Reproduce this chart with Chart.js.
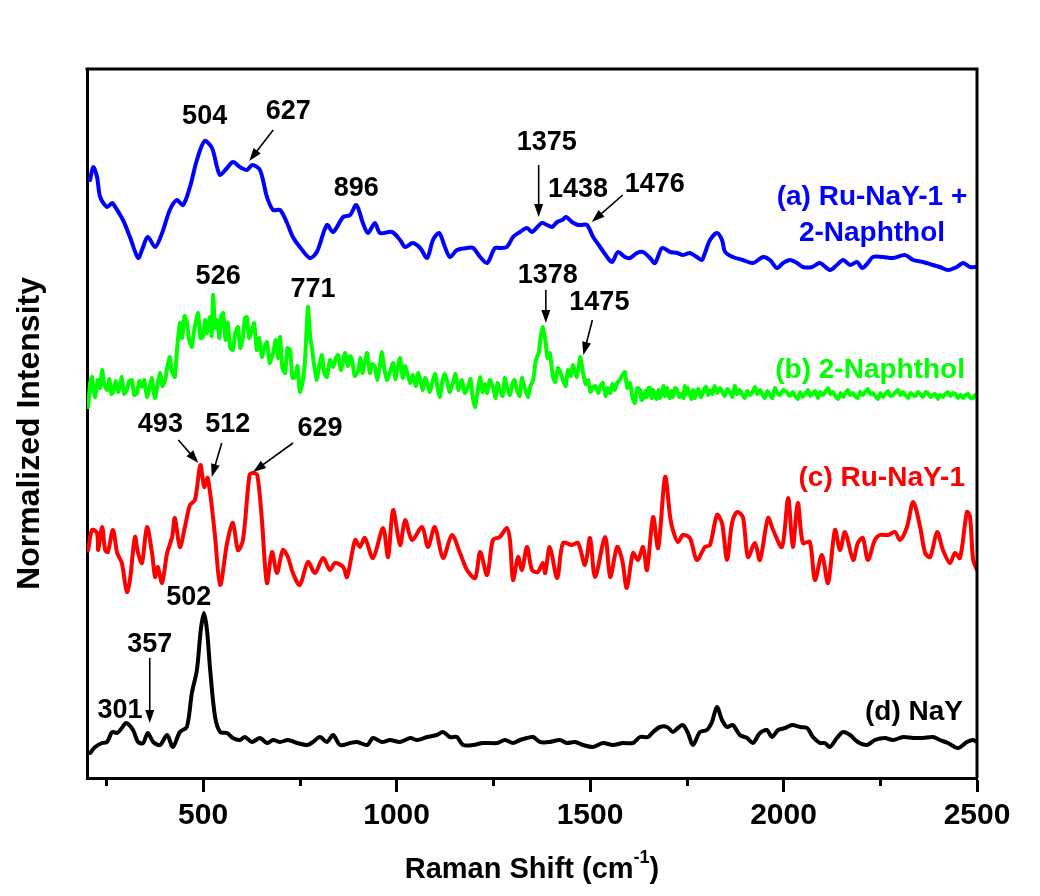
<!DOCTYPE html>
<html>
<head>
<meta charset="utf-8">
<title>Raman spectra</title>
<script src="https://cdn.jsdelivr.net/npm/chart.js@4.4.1/dist/chart.umd.min.js"></script>
<style>
  html, body { margin: 0; background: #fff; }
  #wrap { width: 1040px; height: 896px; }
</style>
</head>
<body>
<div id="wrap"><canvas id="raman"></canvas></div>
<script>
// Raman shift (cm-1) vs. normalized intensity, spectra stacked with offsets (a.u.)
const xMin = 200;
const xMax = 2500;
const majorTicks = [500, 1000, 1500, 2000, 2500];
const minorTicks = [250, 750, 1250, 1750, 2250];

// (a) Ru-NaY-1 + 2-Naphthol
const runay1Naphthol = [
  [208, 5.98], [216, 6.11], [226, 6.01], [234, 5.81], [252, 5.71], [265, 5.75], [273, 5.71],
  [293, 5.58], [311, 5.41], [332, 5.20], [342, 5.28], [357, 5.41], [376, 5.31], [394, 5.45],
  [414, 5.68], [432, 5.78], [448, 5.73], [466, 5.91], [484, 6.18], [504, 6.37], [523, 6.30],
  [536, 6.11], [544, 6.03], [562, 6.10], [577, 6.16], [595, 6.11], [613, 6.08], [627, 6.13],
  [647, 6.08], [665, 5.81], [681, 5.68], [699, 5.68], [717, 5.55], [732, 5.41], [750, 5.31],
  [776, 5.20], [794, 5.26], [820, 5.53], [836, 5.46], [862, 5.61], [880, 5.63], [896, 5.73],
  [913, 5.55], [926, 5.45], [944, 5.55], [957, 5.45], [988, 5.46], [1009, 5.38], [1022, 5.31],
  [1042, 5.35], [1061, 5.30], [1079, 5.20], [1094, 5.38], [1110, 5.45], [1125, 5.31], [1138, 5.21],
  [1156, 5.28], [1182, 5.30], [1198, 5.30], [1216, 5.21], [1234, 5.15], [1254, 5.30], [1267, 5.30],
  [1285, 5.31], [1301, 5.41], [1319, 5.46], [1337, 5.50], [1350, 5.46], [1375, 5.55], [1389, 5.53],
  [1402, 5.51], [1415, 5.56], [1428, 5.58], [1438, 5.61], [1453, 5.56], [1469, 5.53], [1476, 5.53],
  [1492, 5.53], [1508, 5.41], [1526, 5.31], [1544, 5.21], [1557, 5.16], [1572, 5.26], [1590, 5.21],
  [1603, 5.20], [1621, 5.25], [1637, 5.26], [1655, 5.20], [1668, 5.15], [1686, 5.30], [1707, 5.26],
  [1725, 5.25], [1740, 5.23], [1758, 5.25], [1776, 5.21], [1789, 5.18], [1797, 5.25], [1810, 5.38],
  [1828, 5.45], [1841, 5.38], [1849, 5.26], [1869, 5.21], [1895, 5.18], [1921, 5.15], [1947, 5.21],
  [1965, 5.18], [1983, 5.10], [1999, 5.15], [2017, 5.18], [2035, 5.15], [2050, 5.11], [2074, 5.11],
  [2094, 5.15], [2120, 5.08], [2138, 5.13], [2154, 5.18], [2172, 5.13], [2190, 5.16], [2203, 5.10],
  [2218, 5.15], [2231, 5.21], [2257, 5.21], [2283, 5.20], [2314, 5.23], [2335, 5.18], [2360, 5.16],
  [2386, 5.13], [2404, 5.11], [2425, 5.08], [2448, 5.11], [2464, 5.15], [2482, 5.11], [2500, 5.11]
];

// (b) 2-Naphthol
const naphthol = [
  [203, 3.71], [208, 3.95], [213, 4.01], [217, 3.86], [221, 3.81], [228, 3.98], [234, 3.90],
  [239, 4.08], [245, 3.93], [252, 3.88], [258, 3.99], [263, 3.84], [267, 3.85], [274, 3.97],
  [281, 3.86], [290, 4.01], [296, 3.84], [303, 3.88], [309, 3.97], [316, 3.98], [322, 3.83],
  [329, 3.85], [335, 3.97], [342, 3.91], [348, 3.98], [355, 3.81], [361, 3.90], [368, 4.00],
  [372, 3.86], [376, 3.80], [383, 3.95], [389, 4.05], [395, 3.92], [402, 3.98], [408, 4.12],
  [414, 4.21], [420, 4.06], [427, 4.01], [433, 4.30], [440, 4.55], [446, 4.40], [452, 4.62],
  [458, 4.56], [464, 4.38], [471, 4.31], [478, 4.50], [487, 4.65], [493, 4.40], [500, 4.41],
  [505, 4.58], [510, 4.45], [518, 4.61], [522, 4.42], [526, 4.83], [531, 4.50], [536, 4.58],
  [542, 4.40], [547, 4.62], [552, 4.65], [558, 4.38], [564, 4.55], [570, 4.30], [577, 4.28],
  [583, 4.45], [590, 4.51], [596, 4.30], [603, 4.41], [608, 4.60], [613, 4.61], [619, 4.40],
  [626, 4.48], [632, 4.55], [639, 4.28], [645, 4.40], [652, 4.21], [658, 4.30], [665, 4.36],
  [672, 4.15], [681, 4.25], [688, 4.38], [694, 4.20], [699, 4.41], [705, 4.10], [712, 4.05],
  [718, 4.30], [725, 4.28], [731, 4.00], [738, 4.01], [744, 4.12], [750, 3.86], [757, 3.95],
  [763, 4.15], [771, 4.71], [777, 4.40], [781, 4.31], [788, 4.10], [794, 3.98], [800, 4.12],
  [807, 4.23], [813, 4.05], [820, 4.01], [828, 4.18], [836, 4.11], [843, 4.20], [849, 4.23],
  [856, 4.08], [862, 4.17], [867, 4.25], [874, 4.12], [880, 4.22], [885, 4.18], [892, 4.02],
  [900, 4.06], [907, 4.20], [912, 4.05], [918, 4.16], [924, 4.25], [931, 4.05], [937, 4.14],
  [944, 4.11], [950, 3.98], [956, 4.10], [962, 4.26], [968, 4.10], [975, 3.98], [983, 4.06],
  [991, 4.15], [997, 3.99], [1003, 4.11], [1009, 4.20], [1016, 4.00], [1022, 4.12], [1027, 4.06],
  [1035, 3.95], [1042, 4.03], [1050, 3.92], [1056, 4.05], [1061, 3.98], [1068, 3.88], [1074, 4.00],
  [1079, 3.95], [1086, 3.86], [1094, 3.98], [1100, 4.04], [1106, 3.90], [1112, 3.81], [1118, 3.96],
  [1124, 4.04], [1130, 3.98], [1137, 3.86], [1146, 3.95], [1152, 4.04], [1160, 3.88], [1169, 3.98],
  [1176, 3.85], [1185, 3.91], [1191, 3.99], [1197, 3.80], [1203, 3.71], [1209, 3.86], [1216, 4.01],
  [1222, 3.86], [1228, 3.94], [1234, 3.85], [1241, 3.98], [1249, 3.91], [1256, 3.80], [1261, 3.95],
  [1267, 3.88], [1274, 3.82], [1280, 4.00], [1286, 3.90], [1293, 3.83], [1300, 3.95], [1305, 3.98],
  [1311, 3.88], [1318, 3.82], [1324, 4.00], [1331, 3.90], [1340, 3.81], [1346, 3.92], [1353, 3.98],
  [1360, 4.18], [1368, 4.26], [1372, 4.40], [1378, 4.51], [1385, 4.36], [1390, 4.20], [1396, 4.25],
  [1404, 4.01], [1410, 3.96], [1417, 4.10], [1423, 4.06], [1430, 3.98], [1437, 3.92], [1443, 4.08],
  [1450, 4.02], [1456, 4.13], [1465, 4.01], [1470, 4.10], [1475, 4.21], [1482, 4.05], [1489, 3.94],
  [1495, 3.98], [1501, 3.86], [1508, 3.91], [1514, 3.92], [1521, 3.85], [1527, 3.92], [1533, 3.95],
  [1540, 3.82], [1546, 3.90], [1552, 3.85], [1558, 3.94], [1564, 3.88], [1570, 3.95], [1577, 3.98],
  [1584, 4.03], [1590, 4.06], [1596, 3.90], [1603, 3.95], [1610, 3.80], [1616, 3.75], [1622, 3.90],
  [1629, 3.88], [1633, 3.78], [1638, 3.80], [1643, 3.87], [1647, 3.81], [1651, 3.90], [1655, 3.90],
  [1659, 3.80], [1663, 3.88], [1668, 3.82], [1672, 3.79], [1677, 3.88], [1681, 3.80], [1686, 3.86],
  [1690, 3.92], [1694, 3.82], [1699, 3.90], [1702, 3.84], [1706, 3.80], [1710, 3.87], [1714, 3.81],
  [1720, 3.90], [1725, 3.88], [1731, 3.81], [1738, 3.85], [1742, 3.80], [1745, 3.92], [1749, 3.84],
  [1753, 3.90], [1758, 3.83], [1762, 3.79], [1766, 3.88], [1771, 3.80], [1775, 3.86], [1780, 3.89],
  [1786, 3.81], [1792, 3.85], [1796, 3.90], [1800, 3.91], [1805, 3.83], [1810, 3.88], [1816, 3.84],
  [1822, 3.92], [1829, 3.85], [1836, 3.90], [1842, 3.86], [1848, 3.82], [1855, 3.89], [1862, 3.85],
  [1868, 3.81], [1874, 3.92], [1880, 3.84], [1887, 3.88], [1893, 3.84], [1900, 3.80], [1906, 3.87],
  [1913, 3.83], [1920, 3.86], [1926, 3.91], [1932, 3.84], [1939, 3.88], [1945, 3.84], [1952, 3.80],
  [1958, 3.87], [1965, 3.83], [1971, 3.80], [1978, 3.90], [1984, 3.85], [1991, 3.83], [1999, 3.88],
  [2008, 3.86], [2016, 3.82], [2024, 3.86], [2030, 3.82], [2037, 3.79], [2043, 3.86], [2050, 3.81],
  [2056, 3.84], [2063, 3.88], [2069, 3.82], [2076, 3.85], [2082, 3.87], [2089, 3.80], [2095, 3.86],
  [2102, 3.83], [2108, 3.86], [2115, 3.90], [2121, 3.84], [2128, 3.86], [2134, 3.82], [2141, 3.79],
  [2147, 3.85], [2154, 3.81], [2160, 3.85], [2166, 3.88], [2172, 3.83], [2179, 3.85], [2185, 3.82],
  [2192, 3.80], [2198, 3.86], [2205, 3.83], [2211, 3.86], [2218, 3.89], [2224, 3.84], [2231, 3.85],
  [2237, 3.82], [2244, 3.79], [2250, 3.85], [2257, 3.81], [2263, 3.84], [2270, 3.87], [2276, 3.82],
  [2283, 3.83], [2290, 3.86], [2296, 3.88], [2302, 3.83], [2309, 3.86], [2315, 3.83], [2322, 3.80],
  [2328, 3.85], [2335, 3.83], [2341, 3.82], [2348, 3.86], [2354, 3.84], [2360, 3.81], [2367, 3.86],
  [2373, 3.85], [2380, 3.81], [2386, 3.83], [2392, 3.84], [2399, 3.79], [2405, 3.83], [2412, 3.81],
  [2418, 3.84], [2425, 3.86], [2431, 3.82], [2438, 3.85], [2444, 3.84], [2451, 3.80], [2457, 3.83],
  [2464, 3.80], [2470, 3.83], [2477, 3.84], [2483, 3.80], [2490, 3.80], [2495, 3.83], [2500, 3.81]
];

// (c) Ru-NaY-1
const runay1 = [
  [203, 2.28], [213, 2.48], [226, 2.45], [229, 2.28], [239, 2.51], [247, 2.28], [254, 2.26],
  [267, 2.48], [278, 2.25], [290, 2.15], [303, 1.86], [311, 1.98], [324, 2.41], [332, 2.25],
  [342, 2.15], [355, 2.51], [368, 2.25], [376, 2.01], [383, 2.11], [394, 1.95], [407, 2.25],
  [420, 2.41], [427, 2.60], [440, 2.31], [453, 2.51], [466, 2.73], [479, 2.78], [493, 3.13],
  [503, 2.91], [512, 3.00], [530, 2.45], [544, 1.93], [562, 2.35], [577, 2.55], [590, 2.28],
  [603, 2.38], [620, 3.03], [629, 3.05], [640, 3.03], [652, 2.58], [665, 1.95], [678, 2.26],
  [691, 2.05], [706, 2.28], [719, 2.21], [732, 2.05], [750, 1.93], [771, 2.16], [789, 2.05],
  [810, 2.20], [828, 2.08], [841, 2.15], [862, 2.11], [872, 2.01], [893, 2.38], [905, 2.31],
  [918, 2.40], [939, 2.20], [965, 2.50], [978, 2.21], [991, 2.68], [1009, 2.33], [1022, 2.58],
  [1040, 2.38], [1066, 2.51], [1081, 2.31], [1099, 2.51], [1120, 2.20], [1143, 2.43], [1164, 2.25],
  [1182, 2.08], [1203, 2.00], [1216, 2.26], [1234, 2.03], [1249, 2.38], [1267, 2.41], [1285, 2.50],
  [1293, 2.38], [1301, 1.98], [1314, 2.21], [1324, 2.08], [1337, 2.31], [1350, 2.08], [1365, 2.06],
  [1378, 2.15], [1384, 2.05], [1396, 2.31], [1415, 2.00], [1430, 2.35], [1453, 2.33], [1469, 2.35],
  [1487, 2.13], [1500, 2.40], [1513, 2.01], [1539, 2.41], [1552, 2.01], [1570, 2.31], [1583, 2.18],
  [1595, 1.90], [1611, 2.25], [1624, 2.18], [1637, 2.31], [1647, 2.08], [1663, 2.61], [1676, 2.30],
  [1694, 3.01], [1707, 2.61], [1714, 2.48], [1727, 2.36], [1740, 2.43], [1758, 2.40], [1776, 2.18],
  [1797, 2.31], [1810, 2.33], [1828, 2.63], [1841, 2.55], [1854, 2.18], [1867, 2.55], [1880, 2.66],
  [1895, 2.61], [1908, 2.21], [1926, 2.35], [1939, 2.18], [1960, 2.60], [1973, 2.48], [1996, 2.31],
  [2012, 2.80], [2024, 2.31], [2037, 2.75], [2050, 2.35], [2068, 2.36], [2081, 1.98], [2099, 2.23],
  [2115, 1.95], [2133, 2.48], [2146, 2.28], [2159, 2.46], [2180, 2.18], [2192, 2.35], [2205, 2.40],
  [2218, 2.18], [2236, 2.38], [2249, 2.43], [2270, 2.43], [2288, 2.46], [2301, 2.38], [2319, 2.51],
  [2335, 2.76], [2353, 2.51], [2366, 2.25], [2379, 2.21], [2397, 2.46], [2412, 2.28], [2430, 2.15],
  [2443, 2.25], [2456, 2.20], [2474, 2.66], [2482, 2.61], [2490, 2.18], [2500, 2.08]
];

// (d) NaY
const nay = [
  [208, 0.25], [221, 0.31], [239, 0.35], [252, 0.36], [265, 0.46], [278, 0.45], [290, 0.50],
  [301, 0.55], [319, 0.48], [332, 0.36], [345, 0.35], [357, 0.45], [371, 0.36], [389, 0.33],
  [407, 0.43], [422, 0.31], [440, 0.46], [458, 0.51], [471, 0.85], [484, 1.08], [494, 1.48],
  [502, 1.65], [510, 1.48], [519, 1.05], [531, 0.61], [544, 0.46], [562, 0.45], [577, 0.40],
  [595, 0.38], [608, 0.41], [626, 0.36], [647, 0.40], [665, 0.35], [681, 0.38], [699, 0.36],
  [719, 0.38], [743, 0.35], [769, 0.33], [784, 0.36], [802, 0.41], [820, 0.36], [836, 0.43],
  [854, 0.33], [880, 0.35], [898, 0.36], [924, 0.33], [939, 0.40], [962, 0.36], [983, 0.38],
  [1009, 0.36], [1035, 0.40], [1053, 0.38], [1079, 0.41], [1104, 0.43], [1120, 0.46], [1138, 0.41],
  [1156, 0.41], [1172, 0.33], [1198, 0.33], [1223, 0.35], [1260, 0.35], [1280, 0.38], [1301, 0.35],
  [1319, 0.38], [1337, 0.40], [1353, 0.41], [1371, 0.36], [1396, 0.36], [1422, 0.38], [1440, 0.35],
  [1461, 0.36], [1482, 0.33], [1508, 0.31], [1533, 0.35], [1559, 0.33], [1585, 0.35], [1611, 0.35],
  [1629, 0.41], [1650, 0.41], [1663, 0.46], [1681, 0.51], [1699, 0.51], [1714, 0.46], [1727, 0.50],
  [1740, 0.53], [1753, 0.45], [1766, 0.33], [1784, 0.46], [1802, 0.48], [1815, 0.56], [1828, 0.71],
  [1841, 0.58], [1854, 0.51], [1869, 0.53], [1887, 0.43], [1906, 0.40], [1921, 0.35], [1939, 0.45],
  [1957, 0.48], [1970, 0.41], [1986, 0.48], [2004, 0.50], [2022, 0.53], [2043, 0.51], [2061, 0.50],
  [2076, 0.41], [2094, 0.35], [2107, 0.35], [2120, 0.31], [2138, 0.40], [2154, 0.46], [2172, 0.43],
  [2192, 0.36], [2216, 0.33], [2236, 0.38], [2262, 0.40], [2283, 0.38], [2309, 0.41], [2335, 0.40],
  [2360, 0.40], [2386, 0.41], [2404, 0.38], [2425, 0.35], [2451, 0.30], [2474, 0.36], [2490, 0.38],
  [2500, 0.36]
];

const seriesNames = ['(a) Ru-NaY-1 +\n2-Naphthol', '(b) 2-Naphthol', '(c) Ru-NaY-1', '(d) NaY'];

// labelled band positions (cm-1) for each spectrum
const peaksA = [504, 627, 896, 1375, 1438, 1476];
const peaksB = [526, 771, 1378, 1475];
const peaksC = [493, 512, 629];
const peaksD = [301, 357, 502];

const FONT = '"Liberation Sans", Arial, sans-serif';
const spectra = [
  { name: seriesNames[0], data: runay1Naphthol, peaks: peaksA, color: '#0000ff', tension: 0.3 },
  { name: seriesNames[1], data: naphthol, peaks: peaksB, color: '#00ff00', tension: 0.15 },
  { name: seriesNames[2], data: runay1, peaks: peaksC, color: '#ff0000', tension: 0.3 },
  { name: seriesNames[3], data: nay, peaks: peaksD, color: '#000000', tension: 0.3 }
];

// where each peak number sits relative to its point on the curve (px);
// tip/tail given when the number is joined to the curve by an arrow
const calloutLayout = {
  504: { text: [0, -24] },
  627: { text: [36, -53], tail: [21, -35], tip: [-3, -4] },
  896: { text: [0, -16] },
  1375: { text: [5, -80], tail: [-3, -58], tip: [-3, -6] },
  1438: { text: [12, -27] },
  1476: { text: [74, -40], tail: [42, -30], tip: [11, -3] },
  526: { text: [5, -18] },
  771: { text: [5, -17] },
  1378: { text: [5, -51], tail: [3, -37], tip: [3, -4] },
  1475: { text: [19, -54], tail: [12, -37], tip: [3, -2] },
  493: { text: [-40, -40], tail: [-22, -25], tip: [-2, -2] },
  512: { text: [20, -53], tail: [14, -35], tip: [4, -1] },
  629: { text: [67, -44], tail: [40, -30], tip: [0, -1] },
  301: { text: [-6, -12] },
  357: { text: [2, -88], tail: [2, -75], tip: [2, -10] },
  502: { text: [-15, -15] }
};

// spectrum name positions (px): [x, y, align]
const nameLayout = [
  [872, 197, 'center'],
  [965, 370, 'right'],
  [965, 478, 'right'],
  [963, 712, 'right']
];

function valueAt(points, w) {
  for (let i = 1; i < points.length; i++) {
    if (points[i][0] >= w) {
      const [x0, y0] = points[i - 1];
      const [x1, y1] = points[i];
      return y0 + (y1 - y0) * (w - x0) / (x1 - x0);
    }
  }
  return points[points.length - 1][1];
}

function drawArrow(ctx, x1, y1, x2, y2) {
  const ang = Math.atan2(y2 - y1, x2 - x1);
  const head = 13, half = 4.5;
  const c = Math.cos(ang), s = Math.sin(ang);
  ctx.beginPath();
  ctx.moveTo(x1, y1);
  ctx.lineTo(x2 - c * head * 0.7, y2 - s * head * 0.7);
  ctx.stroke();
  ctx.beginPath();
  ctx.moveTo(x2, y2);
  ctx.lineTo(x2 - head * c + half * s, y2 - head * s - half * c);
  ctx.lineTo(x2 - head * c - half * s, y2 - head * s + half * c);
  ctx.closePath();
  ctx.fill();
}

const decorations = {
  id: 'decorations',
  afterDraw(chart) {
    const { ctx, chartArea: area, scales: { x, y } } = chart;
    ctx.save();

    // top and right edges of the frame
    ctx.strokeStyle = '#000';
    ctx.lineWidth = 3;
    ctx.beginPath();
    ctx.moveTo(area.left - 1.5, area.top);
    ctx.lineTo(area.right, area.top);
    ctx.lineTo(area.right, area.bottom);
    ctx.stroke();

    // minor ticks
    minorTicks.forEach(v => {
      const px = Math.round(x.getPixelForValue(v)) + 0.5;
      ctx.beginPath();
      ctx.moveTo(px, area.bottom);
      ctx.lineTo(px, area.bottom + 8);
      ctx.stroke();
    });

    // peak numbers and arrows
    ctx.fillStyle = '#000';
    ctx.strokeStyle = '#000';
    ctx.lineWidth = 1.6;
    ctx.font = 'bold 27px ' + FONT;
    ctx.textAlign = 'center';
    ctx.textBaseline = 'middle';
    spectra.forEach(sp => {
      sp.peaks.forEach(w => {
        const lay = calloutLayout[w];
        const px = x.getPixelForValue(w);
        const py = y.getPixelForValue(valueAt(sp.data, w));
        ctx.fillText(String(w), px + lay.text[0], py + lay.text[1]);
        if (lay.tail) {
          drawArrow(ctx, px + lay.tail[0], py + lay.tail[1], px + lay.tip[0], py + lay.tip[1]);
        }
      });
    });

    // spectrum names
    ctx.font = 'bold 28px ' + FONT;
    spectra.forEach((sp, i) => {
      const [nx, ny, align] = nameLayout[i];
      ctx.fillStyle = sp.color;
      ctx.textAlign = align;
      sp.name.split('\n').forEach((line, k) => ctx.fillText(line, nx, ny + k * 36));
    });

    // axis titles
    ctx.fillStyle = '#000';
    ctx.font = 'bold 32px ' + FONT;
    ctx.textAlign = 'center';
    ctx.save();
    ctx.translate(30, (area.top + area.bottom) / 2 + 10);
    ctx.rotate(-Math.PI / 2);
    ctx.fillText('Normalized Intensity', 0, 0);
    ctx.restore();

    const main = 'Raman Shift (cm';
    const sup = '-1';
    const close = ')';
    ctx.font = 'bold 29px ' + FONT;
    const wMain = ctx.measureText(main).width;
    const wClose = ctx.measureText(close).width;
    ctx.font = 'bold 18px ' + FONT;
    const wSup = ctx.measureText(sup).width;
    const total = wMain + wSup + wClose;
    let tx = (area.left + area.right) / 2 - total / 2;
    const ty = 870;
    ctx.textAlign = 'left';
    ctx.font = 'bold 29px ' + FONT;
    ctx.fillText(main, tx, ty);
    tx += wMain;
    ctx.font = 'bold 18px ' + FONT;
    ctx.fillText(sup, tx, ty - 12);
    tx += wSup;
    ctx.font = 'bold 29px ' + FONT;
    ctx.fillText(close, tx, ty);

    ctx.restore();
  }
};

new Chart(document.getElementById('raman'), {
  type: 'line',
  data: {
    datasets: spectra.map(sp => ({
      label: sp.name,
      data: sp.data.map(([w, v]) => ({ x: w, y: v })),
      borderColor: sp.color,
      borderWidth: 4,
      pointRadius: 0,
      tension: sp.tension,
      fill: false,
      borderJoinStyle: 'round',
      borderCapStyle: 'round'
    }))
  },
  options: {
    responsive: true,
    maintainAspectRatio: false,
    animation: false,
    devicePixelRatio: 1,
    layout: { padding: { top: 69, right: 63, bottom: 0, left: 0 } },
    plugins: { legend: { display: false }, tooltip: { enabled: false } },
    scales: {
      x: {
        type: 'linear',
        min: xMin,
        max: xMax,
        afterBuildTicks: scale => {
          scale.ticks = majorTicks.concat(minorTicks).sort((a, b) => a - b).map(v => ({ value: v }));
        },
        afterFit: scale => { scale.height = 118; },
        ticks: {
          autoSkip: false,
          maxRotation: 0,
          padding: 6,
          color: '#000',
          font: { family: FONT, size: 30, weight: 'bold' },
          callback: v => (majorTicks.includes(v) ? String(v) : '')
        },
        grid: {
          drawOnChartArea: false,
          drawTicks: true,
          tickLength: 14,
          tickWidth: 3,
          tickColor: c => (c.tick && majorTicks.includes(c.tick.value) ? '#000' : 'rgba(0,0,0,0)')
        },
        border: { display: true, width: 3, color: '#000' }
      },
      y: {
        min: 0,
        max: 7.09,
        afterFit: scale => { scale.width = 87; },
        ticks: { display: false },
        grid: { display: false },
        border: { display: true, width: 3, color: '#000' }
      }
    }
  },
  plugins: [decorations]
});
</script>
</body>
</html>
